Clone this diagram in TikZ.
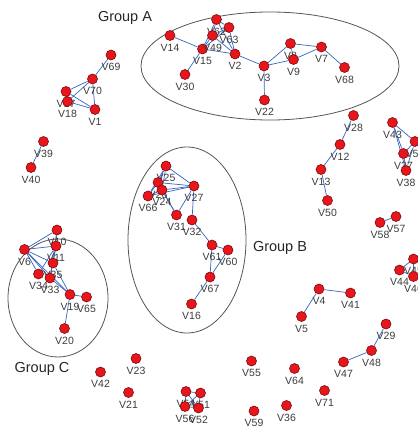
\documentclass[tikz,border=0pt]{standalone}
\usepackage{fontspec}
\setmainfont{Liberation Sans}
\usetikzlibrary{backgrounds}
\definecolor{vfill}{HTML}{E8161C}
\definecolor{vline}{HTML}{7A0A0A}
\definecolor{elink}{HTML}{3565C0}
\definecolor{vtext}{HTML}{3C3C3C}
\definecolor{grp}{HTML}{555555}
\tikzset{
  vtx/.style={circle, fill=vfill, draw=vline, line width=0.6pt, minimum size=10pt, inner sep=0pt,
    label={[vlab]below:#1}},
  vlab/.style={font=\fontsize{10.5}{11}\selectfont, text=vtext, inner sep=0.5pt, label distance=2.5pt},
  link/.style={draw=elink, line width=0.7pt},
  grpring/.style={draw=grp, line width=0.8pt},
  grptitle/.style={font=\fontsize{14.5}{16}\selectfont, text=black!85}
}
\begin{document}
\begin{tikzpicture}[x=1pt, y=-1pt]
\useasboundingbox (0,0) rectangle (417,433);

% group outlines and titles
\draw[grpring] (270,66) ellipse [x radius=129, y radius=54];
\draw[grpring] (187,240) ellipse [x radius=59, y radius=93];
\draw[grpring] (58,298) ellipse [x radius=50, y radius=59];
\node[grptitle] (tA) at (125,18) {Group A};
\node[grptitle] (tB) at (280,248) {Group B};
\node[grptitle] (tC) at (42,369) {Group C};

% group A
\node[vtx=V14] (V14) at (170,35.5) {};
\node[vtx=V15] (V15) at (202.5,49) {};
\node[vtx=V62] (V62) at (216.5,19.5) {};
\node[vtx=V63] (V63) at (229,27.5) {};
\node[vtx=V49] (V49) at (212.5,35.5) {};
\node[vtx=V2] (V2) at (235,54) {};
\node[vtx=V30] (V30) at (185,74.5) {};
\node[vtx=V3] (V3) at (264,66) {};
\node[vtx=V22] (V22) at (264.5,100) {};
\node[vtx=V8] (V8) at (290.5,43.5) {};
\node[vtx=V9] (V9) at (293.5,59.5) {};
\node[vtx=V7] (V7) at (321.5,47) {};
\node[vtx=V68] (V68) at (344.5,67.5) {};

% upper left
\node[vtx=V69] (V69) at (111,55) {};
\node[vtx=V70] (V70) at (92.5,79) {};
\node[vtx=V17] (V17) at (66,91.5) {};
\node[vtx=V18] (V18) at (67.5,101.5) {};
\node[vtx=V1] (V1) at (95,109.5) {};
\node[vtx=V39] (V39) at (43.5,141.5) {};
\node[vtx=V40] (V40) at (31,167.5) {};

% group B
\node[vtx=V25] (V25) at (166,166) {};
\node[vtx=V26] (V26) at (158,182.5) {};
\node[vtx=V24] (V24) at (162,190) {};
\node[vtx=V66] (V66) at (148,196) {};
\node[vtx=V27] (V27) at (194,186) {};
\node[vtx=V31] (V31) at (176.5,215) {};
\node[vtx=V32] (V32) at (192,220) {};
\node[vtx=V61] (V61) at (212,245) {};
\node[vtx=V60] (V60) at (228,250) {};
\node[vtx=V67] (V67) at (210,277) {};
\node[vtx=V16] (V16) at (191.5,304) {};

% group C
\node[vtx=V10] (V10) at (57,230) {};
\node[vtx=V11] (V11) at (56,246) {};
\node[vtx=V35] (V35) at (53,263) {};
\node[vtx=V6] (V6) at (24.5,249.5) {};
\node[vtx=V34] (V34) at (38.5,274) {};
\node[vtx=V33] (V33) at (50,278) {};
\node[vtx=V19] (V19) at (70,294.5) {};
\node[vtx=V65] (V65) at (86.5,297) {};
\node[vtx=V20] (V20) at (64.5,328.5) {};

% right side
\node[vtx=V28] (V28) at (353.5,115.5) {};
\node[vtx=V12] (V12) at (340,144.5) {};
\node[vtx=V13] (V13) at (321,169.5) {};
\node[vtx=V50] (V50) at (327.5,200.5) {};
\node[vtx=V43] (V43) at (392.5,122.5) {};
\node[vtx=V53] (V53) at (415,141.5) {};
\node[vtx=V37] (V37) at (403.5,153.5) {};
\node[vtx=V38] (V38) at (406,170.5) {};
\node[vtx=V58] (V58) at (380,222.5) {};
\node[vtx=V57] (V57) at (396,216.5) {};
\node[vtx=V4] (V4) at (319,289) {};
\node[vtx=V41] (V41) at (350.5,293) {};
\node[vtx=V5] (V5) at (301.5,316.5) {};
\node[vtx=V44] (V44) at (399.5,270) {};
\node[vtx=V45] (V45) at (413.5,259) {};
\node[vtx=V46] (V46) at (413.5,276.5) {};

% bottom
\node[vtx=V29] (V29) at (386,324) {};
\node[vtx=V48] (V48) at (371.5,350.5) {};
\node[vtx=V47] (V47) at (343.5,362) {};
\node[vtx=V55] (V55) at (251.5,361) {};
\node[vtx=V64] (V64) at (294.5,368.5) {};
\node[vtx=V71] (V71) at (324.5,390.5) {};
\node[vtx=V36] (V36) at (286.5,405.5) {};
\node[vtx=V59] (V59) at (254,411) {};
\node[vtx=V42] (V42) at (100.5,372) {};
\node[vtx=V23] (V23) at (136,358.5) {};
\node[vtx=V21] (V21) at (128.5,392.5) {};
\node[vtx=V54] (V54) at (186,391.5) {};
\node[vtx=V51] (V51) at (200.5,393) {};
\node[vtx=V56] (V56) at (185,406.5) {};
\node[vtx=V52] (V52) at (198.5,408) {};

% connectors, kept beneath the vertices
\begin{pgfonlayer}{background}
\foreach \a/\b in {
  V14/V15, V15/V30, V15/V62, V15/V63, V15/V49, V15/V2, V62/V63, V62/V49, V62/V2,
  V63/V2, V49/V2, V63/V49, V2/V3, V3/V22, V3/V8, V3/V9, V8/V9, V8/V7, V9/V7, V7/V68,
  V69/V70, V70/V17, V70/V18, V70/V1, V17/V1, V18/V1, V17/V18, V39/V40,
  V25/V26, V25/V27, V25/V24, V26/V27, V24/V27, V66/V26, V66/V27, V66/V24, V25/V66,
  V24/V31, V26/V31, V31/V27, V27/V32, V32/V61, V61/V60, V61/V67, V60/V67, V67/V16,
  V6/V10, V6/V11, V6/V35, V6/V34, V6/V33, V6/V19, V10/V11, V11/V35, V11/V34,
  V11/V33, V10/V33, V35/V19, V33/V19, V19/V65, V19/V20,
  V28/V12, V12/V13, V13/V50, V43/V53, V43/V37, V43/V38, V53/V37, V53/V38, V37/V38,
  V58/V57, V4/V41, V4/V5, V44/V45, V44/V46, V45/V46, V29/V48, V48/V47,
  V54/V51, V54/V56, V54/V52, V51/V56, V51/V52, V56/V52}
  \draw[link] (\a) -- (\b);
\end{pgfonlayer}
\end{tikzpicture}
\end{document}
